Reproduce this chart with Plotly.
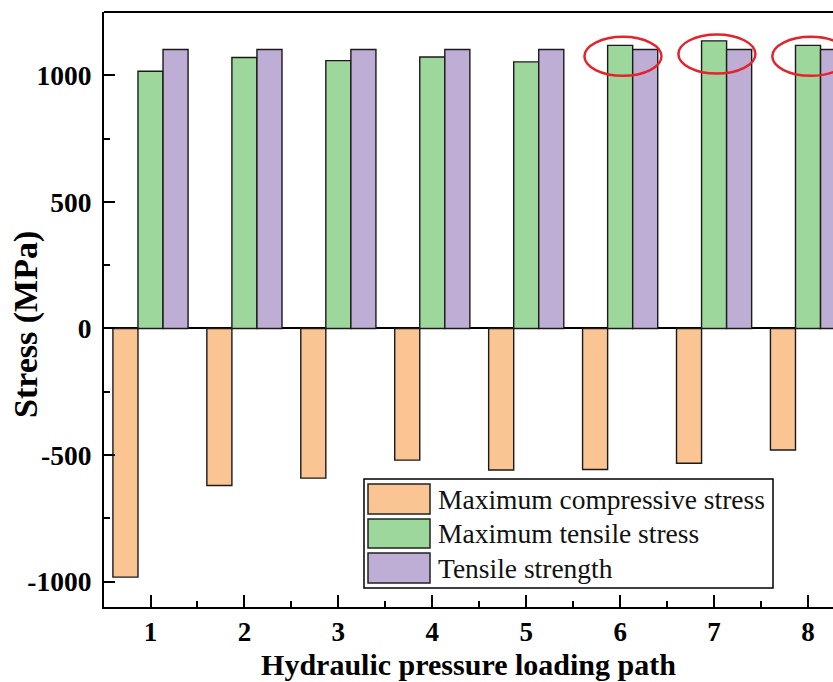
import plotly.graph_objects as go

paths = [1, 2, 3, 4, 5, 6, 7, 8]
max_compressive = [-982, -620, -591, -520, -559, -557, -532, -480]
max_tensile = [1016, 1070, 1058, 1072, 1053, 1118, 1136, 1118]
tensile_strength = [1102, 1102, 1102, 1102, 1102, 1102, 1102, 1102]
series_names = ["Maximum compressive stress", "Maximum tensile stress", "Tensile strength"]
colors = ["#FBC493", "#9DD79C", "#BEADD5"]
highlight_groups = [6, 7, 8]
y_ticks = [-1000, -500, 0, 500, 1000]

W, H = 833, 682
L, R, T, B = 104, 0, 12, 75
PW, PH = W - L - R, H - T - B

def px(x):
    return (x - L) / PW

def py(y):
    return (H - B - y) / PH

fig = go.Figure()
for name, vals, col in zip(series_names, [max_compressive, max_tensile, tensile_strength], colors):
    fig.add_trace(go.Bar(
        x=paths, y=vals, name=name,
        marker=dict(color=col, line=dict(color="#1a1a1a", width=1.4)),
        showlegend=False,
    ))

shapes = []
# top border
shapes.append(dict(type="line", xref="paper", yref="paper", x0=0, x1=1, y0=1, y1=1,
                   line=dict(color="black", width=2)))
# red highlight ellipses around tensile stress vs strength
for g in highlight_groups:
    i = paths.index(g)
    yc = (max_tensile[i] + tensile_strength[i]) / 2 - 35
    shapes.append(dict(type="circle", xref="x", yref="y",
                       x0=g + 0.03 - 0.41, x1=g + 0.03 + 0.41,
                       y0=yc - 77, y1=yc + 77,
                       line=dict(color="#E5232B", width=2.5)))

# legend box
shapes.append(dict(type="rect", xref="paper", yref="paper",
                   x0=px(364), x1=px(773), y0=py(588), y1=py(479),
                   line=dict(color="black", width=1.5), fillcolor="white", layer="above"))
annotations = []
sw = [(484, 514), (519, 548), (553, 583)]
for (y0, y1), name, col in zip(sw, series_names, colors):
    shapes.append(dict(type="rect", xref="paper", yref="paper",
                       x0=px(368), x1=px(430), y0=py(y1), y1=py(y0),
                       line=dict(color="#222", width=1.5), fillcolor=col, layer="above"))
    annotations.append(dict(xref="paper", yref="paper", x=px(436), y=py((y0 + y1) / 2),
                            text=name, showarrow=False, xanchor="left", yanchor="middle",
                            font=dict(family="Liberation Serif", size=27.5, color="#111")))

# y-axis title
annotations.append(dict(xref="paper", yref="paper", x=px(26), y=py(325),
                        text="<b>Stress (MPa)</b>", textangle=-90, showarrow=False,
                        xanchor="center", yanchor="middle",
                        font=dict(family="Liberation Serif", size=34, color="black")))

fig.update_layout(
    width=W, height=H,
    margin=dict(l=L, r=R, t=T, b=B, pad=0),
    paper_bgcolor="white", plot_bgcolor="white",
    barmode="group", bargap=0.2, bargroupgap=0,
    shapes=shapes, annotations=annotations,
    font=dict(family="Liberation Serif", color="black"),
)
fig.update_xaxes(
    range=[0.505, 8.266], tickvals=paths, ticktext=[str(p) for p in paths],
    ticks="inside", ticklen=12, tickwidth=2, tickcolor="black",
    minor=dict(ticks="inside", ticklen=6, tickwidth=1.5, dtick=1, tick0=0.5, tickcolor="black"),
    showline=True, linecolor="black", linewidth=2, showgrid=False, zeroline=False,
    tickfont=dict(family="Liberation Serif", size=27, color="black", weight="bold"),
    title=dict(text="<b>Hydraulic pressure loading path</b>", standoff=8,
               font=dict(family="Liberation Serif", size=30, color="black")),
)
fig.update_yaxes(
    range=[-1100, 1250], tickvals=y_ticks, ticktext=[str(v) for v in y_ticks],
    ticks="inside", ticklen=11, tickwidth=2, tickcolor="black",
    minor=dict(ticks="inside", ticklen=6, tickwidth=1.5, dtick=250, tick0=0, tickcolor="black"),
    showline=True, linecolor="black", linewidth=2, showgrid=False,
    zeroline=True, zerolinecolor="black", zerolinewidth=1.5,
    ticklabelstandoff=5,
    tickfont=dict(family="Liberation Serif", size=27.5, color="black", weight="bold"),
)

fig.write_html("out.html")
